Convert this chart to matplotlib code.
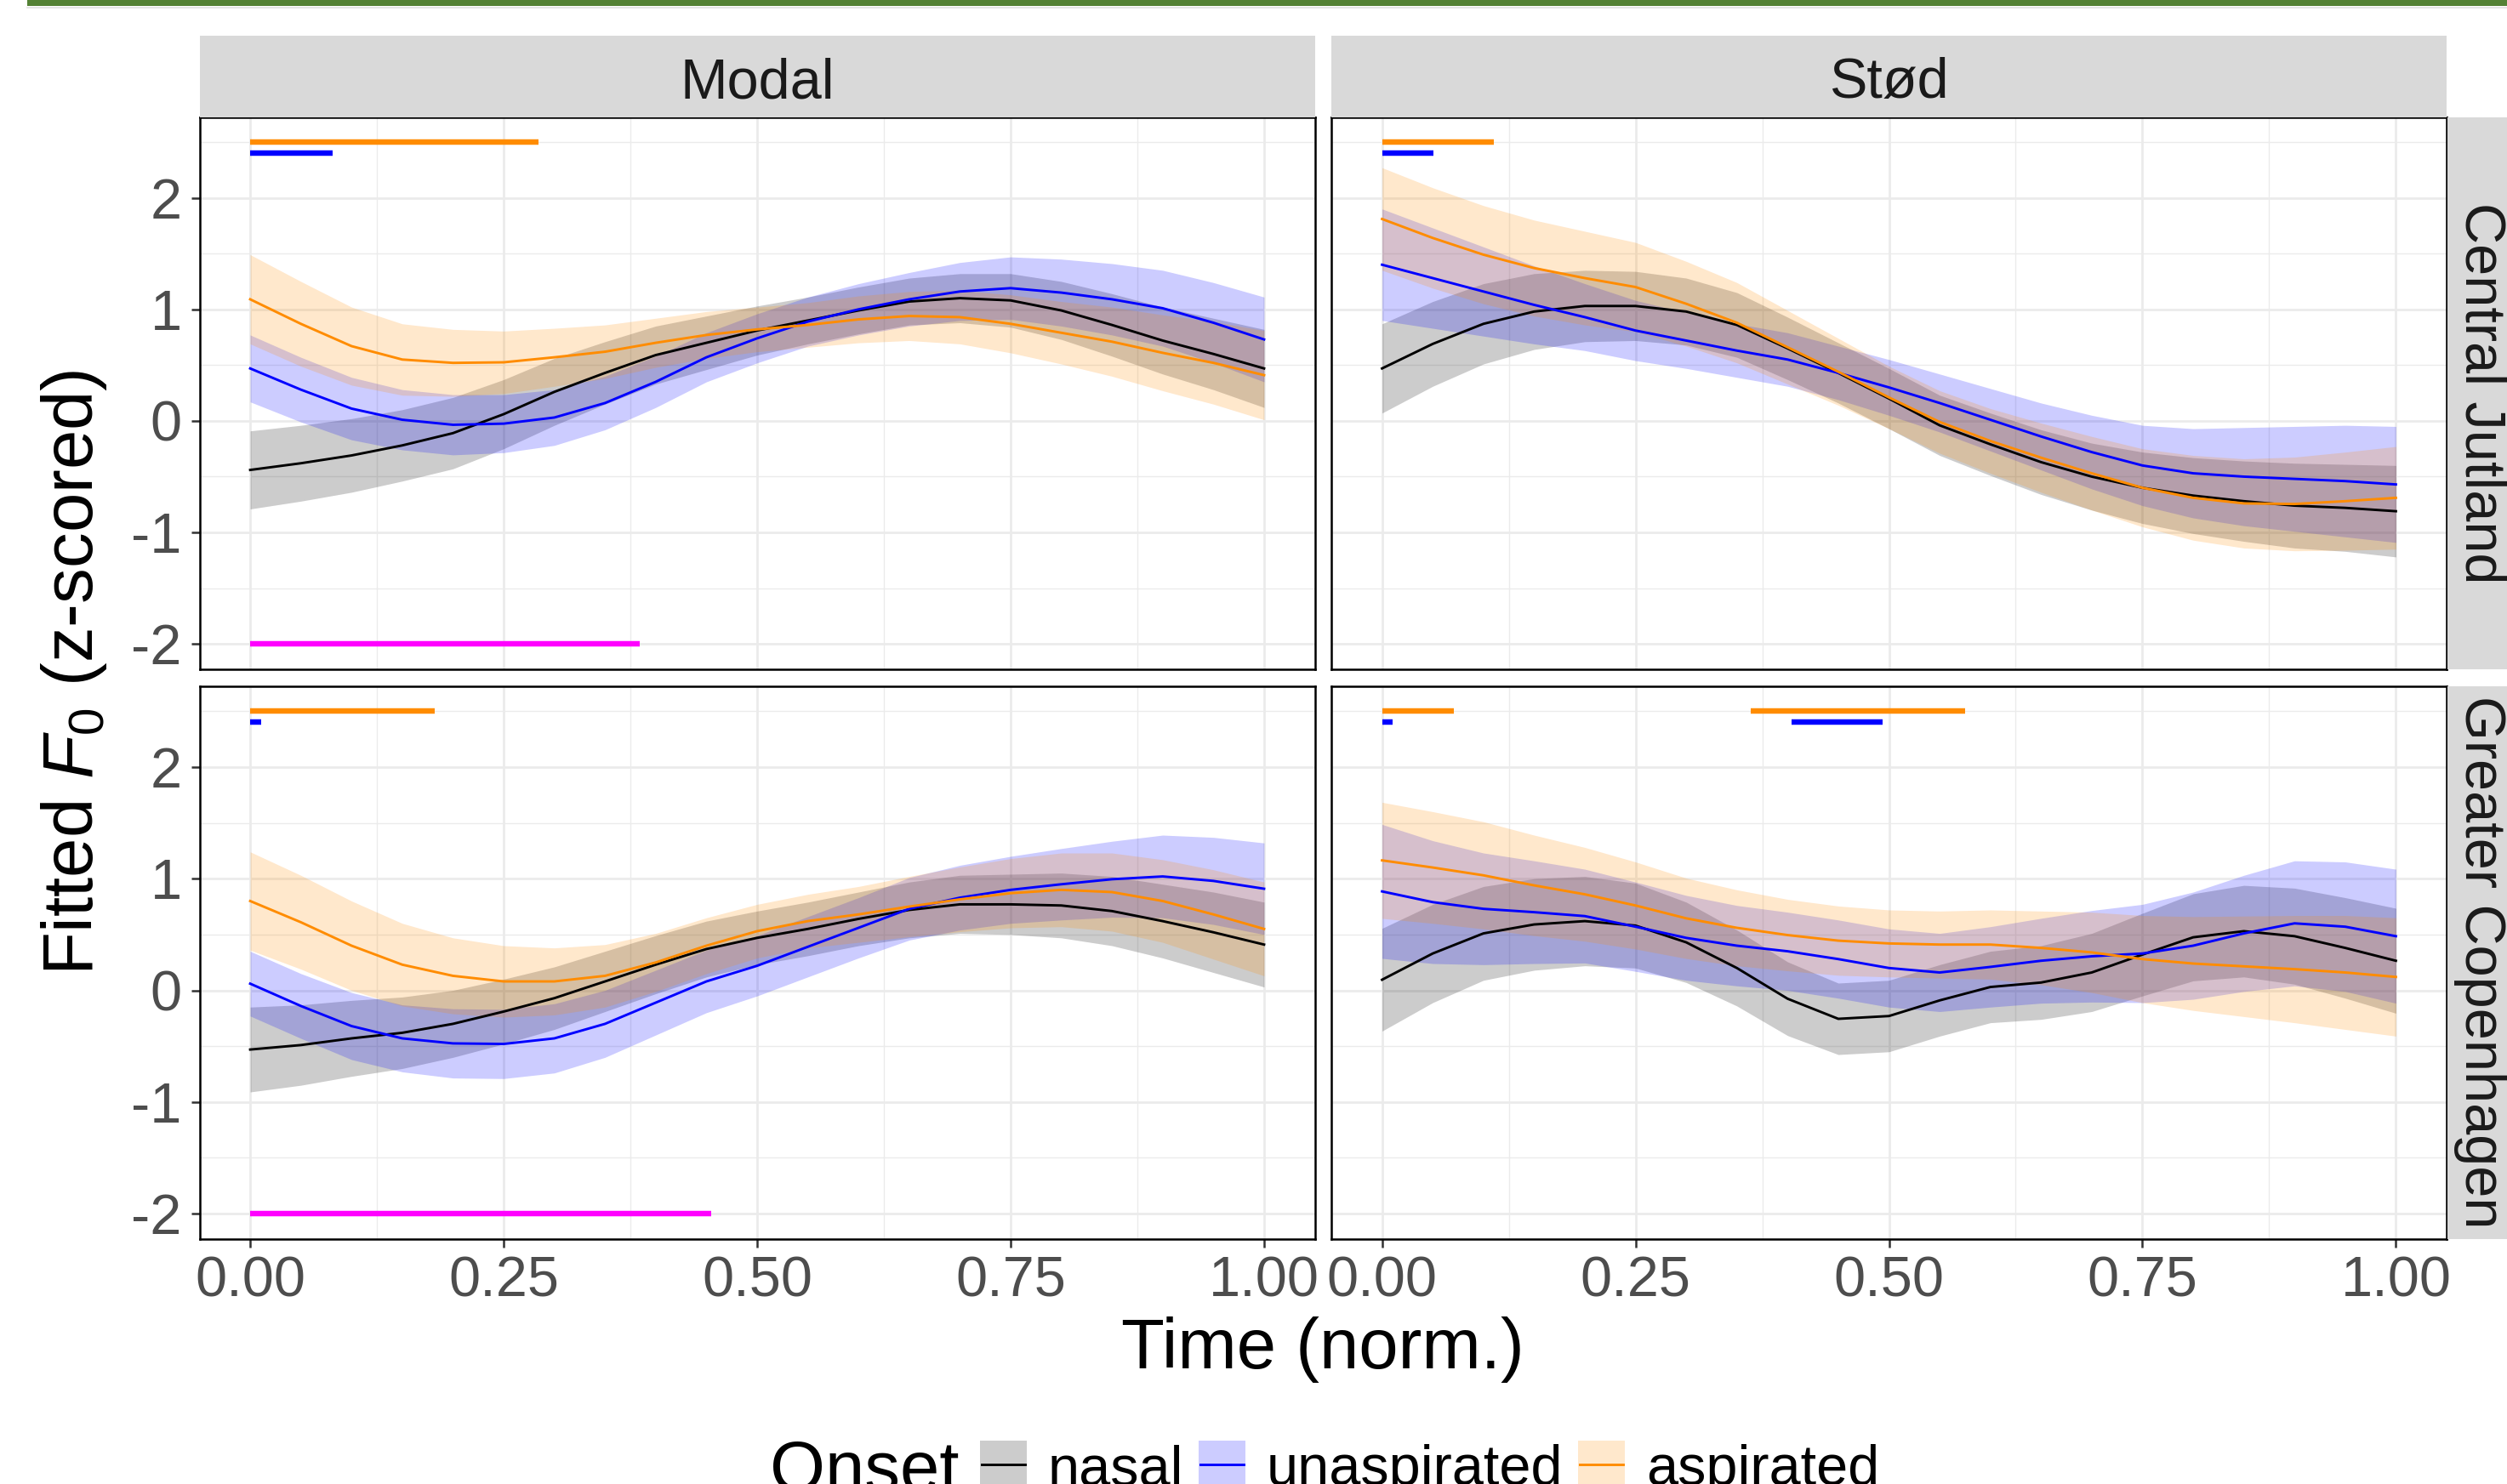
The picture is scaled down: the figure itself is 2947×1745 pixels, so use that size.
import matplotlib
matplotlib.use("Agg")
import matplotlib.pyplot as plt
from matplotlib.patches import Rectangle
from matplotlib.lines import Line2D

plt.rcParams['font.family'] = ['Liberation Sans', 'DejaVu Sans']
plt.rcParams['mathtext.fontset'] = 'custom'
plt.rcParams['mathtext.rm'] = 'Liberation Sans'
plt.rcParams['mathtext.it'] = 'Liberation Sans:italic'

# ---- data ----
time = [0.00, 0.05, 0.10, 0.15, 0.20, 0.25, 0.30, 0.35, 0.40, 0.45, 0.50,
        0.55, 0.60, 0.65, 0.70, 0.75, 0.80, 0.85, 0.90, 0.95, 1.00]

phonations = ["Modal", "Stød"]
regions = ["Central Jutland", "Greater Copenhagen"]
onsets = ["nasal", "unaspirated", "aspirated"]

# Central Jutland, Modal
cj_modal_nasal = [-0.44, -0.38, -0.31, -0.22, -0.11, 0.06, 0.26, 0.43, 0.59, 0.70, 0.81,
                  0.90, 0.99, 1.07, 1.10, 1.08, 0.99, 0.86, 0.72, 0.60, 0.47]
cj_modal_nasal_ci = [0.35, 0.34, 0.33, 0.32, 0.32, 0.31, 0.30, 0.28, 0.26, 0.24, 0.22,
                     0.21, 0.21, 0.21, 0.22, 0.24, 0.26, 0.28, 0.30, 0.32, 0.35]
cj_modal_unasp = [0.47, 0.28, 0.11, 0.01, -0.035, -0.025, 0.03, 0.16, 0.35, 0.57, 0.74,
                  0.89, 1.00, 1.09, 1.16, 1.19, 1.15, 1.09, 1.01, 0.88, 0.73]
cj_modal_unasp_ci = [0.30, 0.29, 0.28, 0.27, 0.27, 0.26, 0.25, 0.24, 0.23, 0.22, 0.22,
                     0.22, 0.23, 0.24, 0.26, 0.28, 0.30, 0.32, 0.34, 0.36, 0.38]
cj_modal_asp = [1.09, 0.87, 0.67, 0.55, 0.52, 0.525, 0.57, 0.62, 0.70, 0.77, 0.82,
                0.86, 0.91, 0.94, 0.93, 0.87, 0.79, 0.71, 0.61, 0.52, 0.41]
cj_modal_asp_ci = [0.40, 0.38, 0.35, 0.32, 0.30, 0.28, 0.26, 0.24, 0.22, 0.21, 0.20,
                   0.20, 0.21, 0.22, 0.24, 0.26, 0.28, 0.31, 0.34, 0.37, 0.40]

# Central Jutland, Stød
cj_stod_nasal = [0.47, 0.69, 0.87, 0.98, 1.03, 1.03, 0.98, 0.86, 0.65, 0.43, 0.20,
                 -0.04, -0.21, -0.37, -0.50, -0.60, -0.67, -0.72, -0.76, -0.78, -0.81]
cj_stod_nasal_ci = [0.40, 0.38, 0.36, 0.34, 0.32, 0.31, 0.30, 0.29, 0.28, 0.27, 0.27,
                    0.27, 0.28, 0.29, 0.30, 0.32, 0.34, 0.36, 0.38, 0.39, 0.41]
cj_stod_unasp = [1.40, 1.28, 1.16, 1.04, 0.93, 0.81, 0.72, 0.63, 0.55, 0.43, 0.30,
                 0.16, 0.01, -0.14, -0.28, -0.40, -0.47, -0.50, -0.52, -0.54, -0.57]
cj_stod_unasp_ci = [0.50, 0.45, 0.40, 0.35, 0.30, 0.27, 0.25, 0.24, 0.24, 0.24, 0.25,
                    0.26, 0.28, 0.30, 0.33, 0.36, 0.40, 0.44, 0.47, 0.50, 0.52]
cj_stod_asp = [1.81, 1.64, 1.49, 1.37, 1.28, 1.20, 1.05, 0.88, 0.66, 0.44, 0.21,
               -0.01, -0.18, -0.33, -0.47, -0.60, -0.69, -0.74, -0.745, -0.72, -0.69]
cj_stod_asp_ci = [0.46, 0.45, 0.44, 0.43, 0.42, 0.40, 0.38, 0.36, 0.33, 0.30, 0.28,
                  0.28, 0.29, 0.31, 0.33, 0.35, 0.38, 0.40, 0.42, 0.44, 0.46]

# Greater Copenhagen, Modal
gc_modal_nasal = [-0.53, -0.49, -0.43, -0.38, -0.30, -0.19, -0.07, 0.08, 0.23, 0.37, 0.47,
                  0.55, 0.64, 0.72, 0.77, 0.77, 0.76, 0.71, 0.62, 0.52, 0.41]
gc_modal_nasal_ci = [0.38, 0.36, 0.34, 0.32, 0.30, 0.29, 0.28, 0.27, 0.26, 0.25, 0.24,
                     0.24, 0.24, 0.25, 0.26, 0.27, 0.29, 0.31, 0.33, 0.36, 0.38]
gc_modal_unasp = [0.06, -0.14, -0.32, -0.43, -0.475, -0.48, -0.43, -0.30, -0.11, 0.08, 0.22,
                  0.39, 0.56, 0.73, 0.83, 0.90, 0.95, 0.995, 1.02, 0.98, 0.91]
gc_modal_unasp_ci = [0.29, 0.29, 0.30, 0.30, 0.31, 0.31, 0.31, 0.30, 0.29, 0.28, 0.27,
                     0.27, 0.27, 0.28, 0.29, 0.30, 0.32, 0.34, 0.37, 0.39, 0.41]
gc_modal_asp = [0.80, 0.61, 0.40, 0.23, 0.13, 0.08, 0.08, 0.13, 0.25, 0.40, 0.53,
                0.62, 0.68, 0.75, 0.815, 0.87, 0.90, 0.88, 0.80, 0.68, 0.55]
gc_modal_asp_ci = [0.44, 0.42, 0.40, 0.37, 0.34, 0.32, 0.30, 0.28, 0.26, 0.25, 0.24,
                   0.24, 0.25, 0.27, 0.29, 0.31, 0.33, 0.35, 0.37, 0.40, 0.42]

# Greater Copenhagen, Stød
gc_stod_nasal = [0.095, 0.33, 0.51, 0.59, 0.62, 0.58, 0.43, 0.20, -0.075, -0.255, -0.23,
                 -0.09, 0.03, 0.07, 0.16, 0.32, 0.475, 0.53, 0.485, 0.38, 0.265]
gc_stod_nasal_ci = [0.46, 0.44, 0.42, 0.41, 0.40, 0.38, 0.36, 0.34, 0.33, 0.32, 0.32,
                    0.32, 0.32, 0.33, 0.35, 0.37, 0.39, 0.41, 0.43, 0.45, 0.47]
gc_stod_unasp = [0.886, 0.79, 0.73, 0.70, 0.665, 0.57, 0.47, 0.40, 0.35, 0.28, 0.20,
                 0.16, 0.21, 0.265, 0.305, 0.33, 0.40, 0.51, 0.60, 0.57, 0.485]
gc_stod_unasp_ci = [0.60, 0.55, 0.50, 0.46, 0.42, 0.40, 0.38, 0.36, 0.35, 0.35, 0.35,
                    0.35, 0.36, 0.38, 0.41, 0.44, 0.48, 0.52, 0.56, 0.58, 0.60]
gc_stod_asp = [1.164, 1.10, 1.03, 0.94, 0.86, 0.76, 0.645, 0.56, 0.495, 0.445, 0.42,
               0.41, 0.41, 0.38, 0.34, 0.28, 0.24, 0.215, 0.19, 0.16, 0.12]
gc_stod_asp_ci = [0.52, 0.50, 0.48, 0.45, 0.42, 0.39, 0.36, 0.34, 0.32, 0.31, 0.30,
                  0.30, 0.31, 0.33, 0.36, 0.39, 0.42, 0.45, 0.48, 0.51, 0.53]

# significance intervals (start, end) in normalised time
cj_modal_sig_asp = [(0.0, 0.284)]
cj_modal_sig_unasp = [(0.0, 0.081)]
cj_modal_sig_phon = [(0.0, 0.384)]
cj_stod_sig_asp = [(0.0, 0.11)]
cj_stod_sig_unasp = [(0.0, 0.051)]
cj_stod_sig_phon = []
gc_modal_sig_asp = [(0.0, 0.182)]
gc_modal_sig_unasp = [(0.0, 0.0105)]
gc_modal_sig_phon = [(0.0, 0.455)]
gc_stod_sig_asp = [(0.0, 0.071), (0.364, 0.575)]
gc_stod_sig_unasp = [(0.0, 0.0105), (0.404, 0.494)]
gc_stod_sig_phon = []

sig_levels = {"asp": 2.5, "unasp": 2.4, "phon": -2.0}

colors = {"nasal": "#000000", "unaspirated": "#0000FF", "aspirated": "#FF8C00"}
sig_colors = {"asp": "#FF8C00", "unasp": "#0000FF", "phon": "#FF00FF"}

panels = {
    (0, 0): {"nasal": (cj_modal_nasal, cj_modal_nasal_ci),
             "unaspirated": (cj_modal_unasp, cj_modal_unasp_ci),
             "aspirated": (cj_modal_asp, cj_modal_asp_ci),
             "sig": {"asp": cj_modal_sig_asp, "unasp": cj_modal_sig_unasp, "phon": cj_modal_sig_phon}},
    (0, 1): {"nasal": (cj_stod_nasal, cj_stod_nasal_ci),
             "unaspirated": (cj_stod_unasp, cj_stod_unasp_ci),
             "aspirated": (cj_stod_asp, cj_stod_asp_ci),
             "sig": {"asp": cj_stod_sig_asp, "unasp": cj_stod_sig_unasp, "phon": cj_stod_sig_phon}},
    (1, 0): {"nasal": (gc_modal_nasal, gc_modal_nasal_ci),
             "unaspirated": (gc_modal_unasp, gc_modal_unasp_ci),
             "aspirated": (gc_modal_asp, gc_modal_asp_ci),
             "sig": {"asp": gc_modal_sig_asp, "unasp": gc_modal_sig_unasp, "phon": gc_modal_sig_phon}},
    (1, 1): {"nasal": (gc_stod_nasal, gc_stod_nasal_ci),
             "unaspirated": (gc_stod_unasp, gc_stod_unasp_ci),
             "aspirated": (gc_stod_asp, gc_stod_asp_ci),
             "sig": {"asp": gc_stod_sig_asp, "unasp": gc_stod_sig_unasp, "phon": gc_stod_sig_phon}},
}

# ---- layout (pixel boxes of the 2947x1745 output) ----
W, H, DPI = 2947, 1745, 300


def fx(px):
    return px / W


def fy(py):
    return 1 - py / H


def box(x0, y0, x1, y1):
    return [x0 / W, 1 - y1 / H, (x1 - x0) / W, (y1 - y0) / H]


col_x = [(234.5, 1545.5), (1565.0, 2876.0)]
row_y = [(137.5, 786.7), (806.7, 1456.7)]

fig = plt.figure(figsize=(W / DPI, H / DPI), dpi=DPI)
fig.patch.set_facecolor("white")

# green header band
fig.patches.append(Rectangle((fx(32), fy(7.3)), 1 - fx(32), 7.3 / H,
                             transform=fig.transFigure, facecolor="#548235",
                             edgecolor="none"))
fig.add_artist(Line2D([fx(32), 1], [fy(8.5), fy(8.5)], color="#E2E2E2", lw=0.4))

tick_color = "#333333"
label_color = "#4D4D4D"

for (r, c), pdata in panels.items():
    x0, x1 = col_x[c]
    y0, y1 = row_y[r]
    ax = fig.add_axes(box(x0, y0, x1, y1))
    ax.set_xlim(-0.05, 1.05)
    ax.set_ylim(-2.225, 2.725)
    ax.set_xticks([0, 0.25, 0.5, 0.75, 1.0])
    ax.set_xticklabels(["0.00", "0.25", "0.50", "0.75", "1.00"])
    ax.set_xticks([0.125, 0.375, 0.625, 0.875], minor=True)
    ax.set_yticks([-2, -1, 0, 1, 2])
    ax.set_yticklabels(["-2", "-1", "0", "1", "2"])
    ax.set_yticks([-1.5, -0.5, 0.5, 1.5, 2.5], minor=True)
    ax.grid(which="major", color="#EBEBEB", lw=0.65)
    ax.grid(which="minor", color="#EBEBEB", lw=0.33)
    ax.set_axisbelow(True)
    for s in ax.spines.values():
        s.set_color("black")
        s.set_linewidth(0.6)
    ax.tick_params(which="major", length=2.4, width=0.6, color=tick_color,
                   labelsize=16, labelcolor=label_color)
    ax.tick_params(axis="x", pad=2.4)
    ax.tick_params(axis="y", pad=2.6)
    ax.tick_params(which="minor", length=0)
    if r == 0:
        ax.tick_params(axis="x", which="major", length=0, labelbottom=False)
    if c == 1:
        ax.tick_params(axis="y", which="major", length=0, labelleft=False)

    for onset in onsets:
        mean, ci = pdata[onset]
        lo = [m - e for m, e in zip(mean, ci)]
        hi = [m + e for m, e in zip(mean, ci)]
        ax.fill_between(time, lo, hi, color=colors[onset], alpha=0.2, lw=0)
    for onset in onsets:
        mean, ci = pdata[onset]
        ax.plot(time, mean, color=colors[onset], lw=0.7)

    for key, spans in pdata["sig"].items():
        for a, b in spans:
            ax.plot([a, b], [sig_levels[key]] * 2, color=sig_colors[key],
                    lw=1.55, solid_capstyle="butt")

    # strips
    if r == 0:
        sax = fig.add_axes(box(x0, 42.3, x1, 137.5))
        sax.set_facecolor("#D9D9D9")
        sax.set_xticks([])
        sax.set_yticks([])
        for s in sax.spines.values():
            s.set_visible(False)
        fig.text(fx((x0 + x1) / 2), fy(115), phonations[c], ha="center",
                 va="baseline", fontsize=16, color="#1A1A1A")
    if c == 1:
        sax = fig.add_axes(box(2876.5, y0, 2971, y1))
        sax.set_facecolor("#D9D9D9")
        sax.set_xticks([])
        sax.set_yticks([])
        for s in sax.spines.values():
            s.set_visible(False)
        fig.text(fx(2898), fy((y0 + y1) / 2), regions[r], rotation=-90,
                 rotation_mode="anchor", ha="center", va="baseline",
                 fontsize=16, color="#1A1A1A")

# axis titles
fig.text(fx(1555), fy(1609), "Time (norm.)", ha="center", va="baseline",
         fontsize=20, color="black")
fig.text(fx(109), fy(791), r"Fitted $F_0$ (z-scored)", rotation=90,
         rotation_mode="anchor", ha="center", va="baseline", fontsize=20,
         color="black")

# legend (bottom, partly cut off like the original)
fig.text(fx(905), fy(1753), "Onset", ha="left", va="baseline", fontsize=20,
         color="black")
legend_keys = [(1152, "nasal"), (1409, "unaspirated"), (1855, "aspirated")]
for kx, onset in legend_keys:
    fig.patches.append(Rectangle((fx(kx), fy(1749)), 55 / W, 55 / H,
                                 transform=fig.transFigure, facecolor=colors[onset],
                                 alpha=0.2, edgecolor="none"))
    fig.add_artist(Line2D([fx(kx + 2), fx(kx + 53)], [fy(1722), fy(1722)],
                          color=colors[onset], lw=0.7))
    fig.text(fx(kx + 80), fy(1746), onset, ha="left", va="baseline",
             fontsize=16, color="black")

fig.savefig("out.png", dpi=DPI)
